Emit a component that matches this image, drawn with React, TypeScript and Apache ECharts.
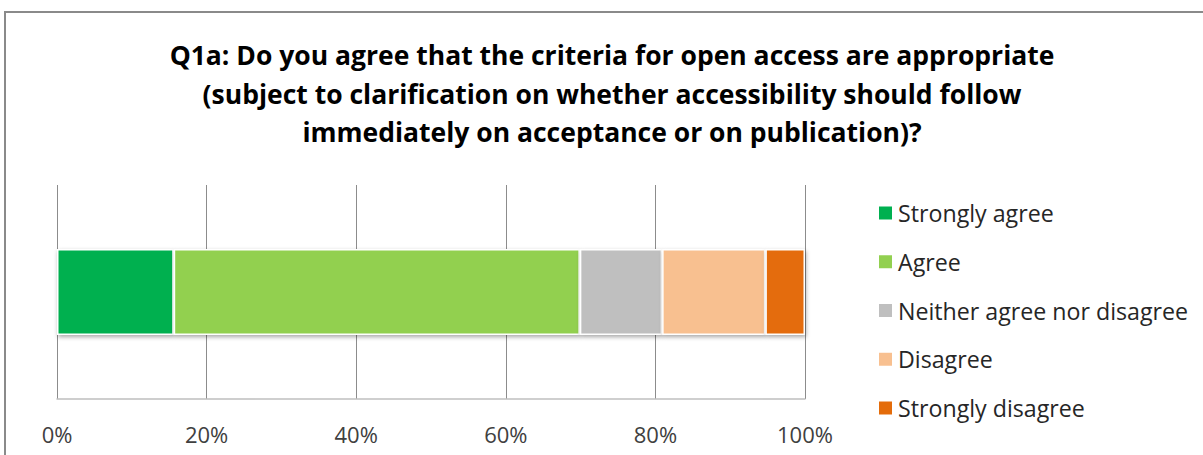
import React, { useEffect, useRef } from "react";
import * as echarts from "echarts";

const titleLines = [
  "Q1a: Do you agree that the criteria for open access are appropriate",
  "(subject to clarification on whether accessibility should follow",
  "immediately on acceptance or on publication)?",
];
const categories = ["Q1a"];
const seriesNames = [
  "Strongly agree",
  "Agree",
  "Neither agree nor disagree",
  "Disagree",
  "Strongly disagree",
];
const seriesValues = [15.6, 54.3, 11.0, 13.8, 5.3];
const seriesColors = ["#00b050", "#92d050", "#bfbfbf", "#f8c090", "#e46c0a"];
const tickValues = [0, 20, 40, 60, 80, 100];

export default function App() {
  const ref = useRef<HTMLDivElement>(null);
  useEffect(() => {
    if (!ref.current) return;
    const chart = echarts.init(ref.current, undefined, { renderer: "svg" });
    const font = "Open Sans";
    chart.setOption({
      animation: false,
      backgroundColor: "#ffffff",
      graphic: [
        {
          type: "rect",
          shape: { x: 5, y: 12, width: 1300, height: 600 },
          style: { fill: "none", stroke: "#8a8a8a", lineWidth: 2 },
          silent: true,
        },
        ...titleLines.map((t, i) => ({
          type: "text",
          x: 612,
          y: 55 + i * 38.5,
          style: {
            text: t,
            textAlign: "center",
            textVerticalAlign: "middle",
            fontFamily: font,
            fontWeight: "bold",
            fontSize: 26.5,
            fill: "#000000",
          },
        })),
      ],
      legend: {
        orient: "vertical",
        left: 877,
        top: 199,
        padding: 0,
        itemWidth: 15,
        itemHeight: 15,
        itemGap: 20.75,
        icon: "rect",
        data: seriesNames,
        textStyle: {
          fontFamily: font,
          fontSize: 23.2,
          color: "#262626",
          lineHeight: 28,
        },
      },
      grid: { left: 57, right: 398, top: 185, bottom: 56, containLabel: false },
      xAxis: {
        type: "value",
        min: 0,
        max: 100,
        interval: 20,
        axisLine: { show: true, lineStyle: { color: "#bfbfbf", width: 1.5 } },
        axisTick: { show: false },
        splitLine: { show: true, lineStyle: { color: "#8c8c8c", width: 1 } },
        axisLabel: {
          formatter: (v: number) => (tickValues.includes(v) ? v + "%" : ""),
          fontFamily: font,
          fontSize: 22,
          color: "#404040",
          margin: 24,
        },
      },
      yAxis: {
        type: "category",
        data: categories,
        axisLine: { show: false },
        axisTick: { show: false },
        axisLabel: { show: false },
      },
      series: seriesNames.map((name, i) => ({
        name,
        type: "bar",
        stack: "total",
        barWidth: 86,
        data: [seriesValues[i]],
        itemStyle: {
          color: seriesColors[i],
          borderColor: "#ffffff",
          borderWidth: 1.5,
          shadowColor: "rgba(0,0,0,0.35)",
          shadowBlur: 4,
          shadowOffsetX: 1,
          shadowOffsetY: 2,
        },
      })),
    });
    return () => chart.dispose();
  }, []);
  return (
    <div
      ref={ref}
      style={{ position: "absolute", left: 0, top: 0, width: 1203, height: 455 }}
    />
  );
}
